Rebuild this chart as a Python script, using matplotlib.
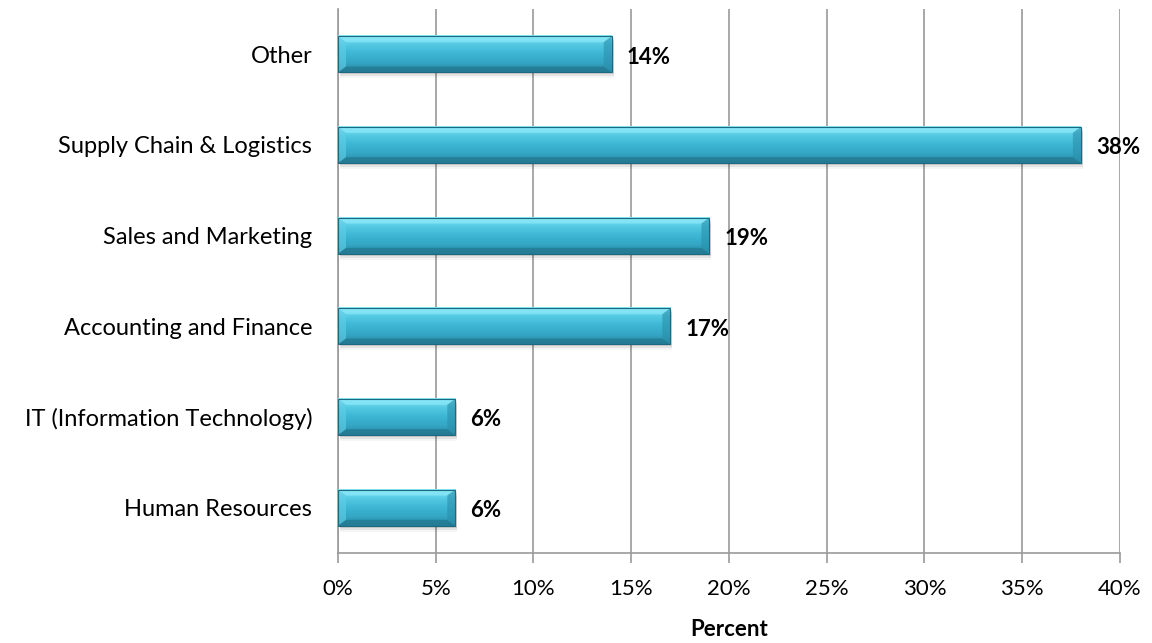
import matplotlib.pyplot as plt
import numpy as np
from matplotlib.patches import Polygon, Rectangle
from matplotlib.colors import LinearSegmentedColormap

categories = ["Human Resources", "IT (Information Technology)", "Accounting and Finance",
              "Sales and Marketing", "Supply Chain & Logistics", "Other"]
percent = [6, 6, 17, 19, 38, 14]
xticks = [0, 5, 10, 15, 20, 25, 30, 35, 40]

plt.rcParams['font.family'] = ['Lato', 'DejaVu Sans']
FS = 16

fig = plt.figure(figsize=(11.52, 6.43), dpi=100)
ax = fig.add_axes([0.2934, 0.14, 0.6788, 0.846])

bar_h = 0.40
grad = LinearSegmentedColormap.from_list(
    "cyanbar", ["#2a89a3", "#34a6c4", "#3cb6d4", "#55c9e3", "#86e6f6"])
gimg = np.linspace(0, 1, 64).reshape(-1, 1)

# pixel to data scale for bevels and shadow
px_x = 40 / 782.0
px_y = 6 / 544.0
bev_x = 8 * px_x
bev_y = 6 * px_y

for i, v in enumerate(percent):
    y0 = i - bar_h / 2
    y1 = i + bar_h / 2
    # soft shadow under the bar
    for k, a in enumerate([0.10, 0.07, 0.04]):
        off = (k + 1) * 2 * px_y
        ax.add_patch(Rectangle((0 + 2 * px_x, y0 - off), v, bar_h,
                               facecolor="black", alpha=a, edgecolor="none", zorder=2))
    ax.imshow(gimg, extent=[0, v, y0, y1], origin="lower", cmap=grad,
              aspect="auto", zorder=3, interpolation="bilinear")
    # bevel faces
    ax.add_patch(Polygon([(0, y1), (v, y1), (v - bev_x, y1 - bev_y), (bev_x, y1 - bev_y)],
                         facecolor="#8ae8f8", alpha=0.7, edgecolor="none", zorder=4))
    ax.add_patch(Polygon([(0, y0), (v, y0), (v - bev_x, y0 + bev_y), (bev_x, y0 + bev_y)],
                         facecolor="#1f7088", alpha=0.6, edgecolor="none", zorder=4))
    ax.add_patch(Polygon([(0, y0), (0, y1), (bev_x, y1 - bev_y), (bev_x, y0 + bev_y)],
                         facecolor="#5fd0e8", alpha=0.6, edgecolor="none", zorder=4))
    ax.add_patch(Polygon([(v, y0), (v, y1), (v - bev_x, y1 - bev_y), (v - bev_x, y0 + bev_y)],
                         facecolor="#2b8fab", alpha=0.6, edgecolor="none", zorder=4))
    ax.add_patch(Rectangle((0, y0), v, bar_h, facecolor="none",
                           edgecolor="#1d6a80", linewidth=0.8, zorder=5))
    ax.annotate(f"{v}%", xy=(v, i), xytext=(11, -2), textcoords="offset points",
                ha="left", va="center", fontsize=FS, fontweight="bold", zorder=6)

ax.set_xlim(0, 40)
ax.set_ylim(-0.5, 5.5)
ax.set_xticks(xticks)
ax.set_xticklabels([f"{t}%" for t in xticks], fontsize=FS)
ax.set_yticks(range(len(categories)))
ax.set_yticklabels(categories, fontsize=17)
ax.tick_params(axis="y", length=0, pad=18.5)
ax.tick_params(axis="x", length=7, width=1.2, color="#9a9a9a", direction="out", pad=12)

ax.grid(axis="x", color="#9a9a9a", linewidth=1.2, zorder=0)
ax.set_axisbelow(True)
for s in ["top", "right"]:
    ax.spines[s].set_visible(False)
for s in ["left", "bottom"]:
    ax.spines[s].set_color("#9a9a9a")
    ax.spines[s].set_linewidth(1.2)

ax.set_xlabel("Percent", fontsize=FS, fontweight="bold", labelpad=14)

fig.savefig("out.png", dpi=100)
